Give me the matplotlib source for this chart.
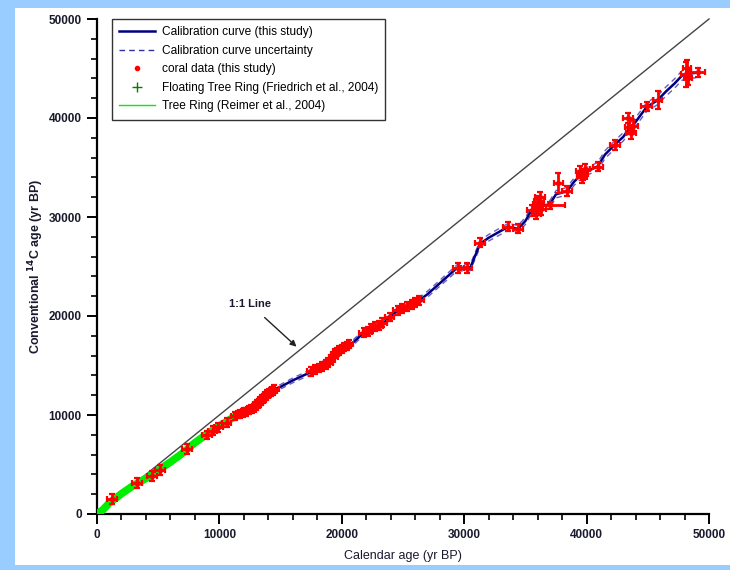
import numpy as np
import matplotlib
matplotlib.use("Agg")
import matplotlib.pyplot as plt
from matplotlib.lines import Line2D
from matplotlib.patches import Rectangle
from matplotlib.ticker import MultipleLocator

plt.rcParams["font.family"] = ["Liberation Sans", "DejaVu Sans"]

# ── Data ──────────────────────────────────────────────────────────────────────

# calibration curve (this study): calendar age, 14C age, 1-sigma
cal_curve = [0, 1000, 2000, 3000, 4000, 5000, 6000, 7000, 8000, 9000, 10000,
             11000, 12000, 13000, 14000, 14400, 15000, 16000, 17400, 18000,
             19000, 20000, 20900, 21700, 22500, 23400, 24000, 24500, 25500,
             26400, 27000, 28000, 29000, 29400, 30500, 31300, 32000, 33000,
             33600, 34400, 35000, 35500, 36000, 37000, 37500, 38400, 39000,
             39700, 40000, 40900, 41500, 42300, 43000, 43500, 44000, 44900,
             45800, 46500, 47200, 47800, 48500, 49200]
c14_curve = [0, 1100, 2050, 2900, 3600, 4400, 5250, 6150, 7200, 8100, 8900,
             9650, 10300, 11100, 12200, 12550, 12850, 13500, 14300, 14750,
             15700, 16800, 17300, 18200, 18700, 19300, 19950, 20500, 21100,
             21650, 22200, 23300, 24400, 24850, 24900, 27300, 27900, 28600,
             29000, 28800, 29600, 30700, 31000, 31300, 32300, 32600, 33600,
             34400, 34600, 35100, 36300, 37300, 38100, 39000, 39600, 41100,
             41800, 42700, 43500, 44300, 44500, 44600]
sig_curve = [60, 80, 90, 100, 110, 120, 130, 140, 150, 160, 170,
             180, 190, 200, 210, 220, 230, 240, 250, 250,
             250, 260, 260, 260, 270, 270, 280, 280, 290,
             290, 300, 300, 310, 310, 320, 330, 330, 340,
             340, 350, 350, 360, 360, 370, 370, 380, 380,
             390, 390, 400, 400, 410, 420, 420, 430, 440,
             450, 460, 470, 480, 490, 500]

# coral data (this study)
coral_cal = [1225, 3270, 4490, 5150, 7350, 8990, 9450, 9900, 10600,
             11300, 11500, 11700, 11900, 12000, 12200, 12300, 12450, 12600,
             12700, 12850, 13000, 13100, 13250, 13400, 13500, 13650, 13800,
             13900, 14050, 14200, 14350, 14500,
             17500, 17800, 18100, 18400, 18700, 18900, 19100, 19300, 19450,
             19600, 19800, 20000, 20200, 20400, 20600,
             21800, 22100, 22400, 22700, 23000, 23300, 23900,
             24600, 24900, 25300, 25700, 26000, 26300,
             29500, 30200, 31300, 33600, 34400,
             35500, 35900, 36000, 36100, 36200, 36300, 36000,
             37000, 37700, 38400, 39500, 39700, 39900, 39600,
             40900, 42300, 43500, 43400, 43600, 43800, 44900, 45800,
             48100, 48200, 48300, 49100]
coral_c14 = [1500, 3130, 3840, 4440, 6560, 7980, 8400, 8750, 9200,
             9900, 10050, 10100, 10200, 10350, 10300, 10450, 10500, 10600,
             10550, 10750, 10900, 11100, 11200, 11400, 11600, 11700, 11900,
             12100, 12200, 12300, 12450, 12600,
             14400, 14600, 14750, 14900, 15100, 15300, 15600, 15900, 16200,
             16350, 16500, 16700, 16900, 17000, 17200,
             18300, 18400, 18700, 18900, 19000, 19300, 19900,
             20600, 20800, 21000, 21200, 21400, 21600,
             24850, 24850, 27400, 29000, 28800,
             30700, 30300, 31000, 31600, 32000, 30800, 31300,
             31200, 33400, 32600, 34600, 34300, 34800, 34000,
             35100, 37300, 39100, 40000, 38500, 39200, 41200, 41800,
             44400, 45000, 44000, 44600]
coral_xerr = [420, 420, 420, 420, 420, 380, 380, 380, 380,
              330, 330, 330, 330, 330, 330, 330, 330, 330,
              330, 330, 330, 330, 330, 330, 330, 330, 330,
              330, 330, 330, 330, 330,
              350, 350, 350, 350, 350, 350, 350, 350, 350,
              350, 350, 350, 350, 350, 350,
              380, 380, 380, 380, 380, 380, 380,
              380, 380, 380, 380, 380, 380,
              450, 450, 400, 400, 400,
              400, 400, 400, 400, 400, 400, 400,
              1200, 350, 400, 400, 400, 400, 400,
              400, 400, 400, 400, 400, 400, 450, 400,
              350, 350, 350, 550]
coral_yerr = [520, 520, 520, 520, 520, 450, 450, 450, 450,
              380, 380, 380, 380, 380, 380, 380, 380, 380,
              380, 380, 380, 380, 380, 380, 380, 380, 380,
              380, 380, 380, 380, 380,
              420, 420, 420, 420, 420, 420, 420, 420, 420,
              420, 420, 420, 420, 420, 420,
              450, 450, 450, 450, 450, 450, 450,
              450, 450, 450, 450, 450, 450,
              500, 500, 450, 450, 450,
              550, 550, 800, 550, 550, 550, 550,
              350, 1000, 500, 550, 550, 550, 550,
              500, 500, 750, 550, 650, 550, 450, 900,
              1300, 900, 700, 450]

# tree ring (Reimer et al., 2004)
tree_cal = [0, 500, 1000, 2000, 3000, 4000, 5000, 6000, 7000, 8000, 9000,
            10000, 11000, 12000]
tree_c14 = [0, 450, 1100, 2050, 2900, 3600, 4400, 5250, 6150, 7200, 8100,
            8900, 9650, 10300]

# floating tree ring (Friedrich et al., 2004)
float_cal = [12400, 12800, 13200, 13600, 14000, 14400]
float_c14 = [10450, 10700, 11150, 11650, 12150, 12500]

# ── Figure ────────────────────────────────────────────────────────────────────

fig = plt.figure(figsize=(7.3, 5.7), dpi=100, facecolor="#99ccff")
fig.patches.append(Rectangle((15 / 730, 5 / 570), 715 / 730, 557 / 570,
                             transform=fig.transFigure, facecolor="white",
                             edgecolor="none", zorder=-10))
ax = fig.add_axes([97 / 730, 1 - 514 / 570, 612 / 730, 495 / 570])
ax.set_facecolor("none")

cal = np.array(cal_curve)
c14 = np.array(c14_curve)
sig = np.array(sig_curve)

# 1:1 line
ax.plot([0, 50000], [0, 50000], color="#444444", lw=1.0, zorder=2, clip_on=False)

# calibration curve + uncertainty
ax.plot(cal, c14 + sig, color="#6a5cc0", lw=1.0, ls=(0, (4, 3)), zorder=3)
ax.plot(cal, c14 - sig, color="#6a5cc0", lw=1.0, ls=(0, (4, 3)), zorder=3)
ax.plot(cal, c14, color="#000080", lw=1.8, zorder=4)

# tree rings
ax.plot(tree_cal, tree_c14, color="#00ee00", lw=5.5, solid_capstyle="round", zorder=5)
ax.plot(float_cal, float_c14, ls="none", marker="+", color="#00a000", ms=5, zorder=5)

# coral data
ax.errorbar(coral_cal, coral_c14, xerr=coral_xerr, yerr=coral_yerr, fmt="o",
            color="#ff0000", ms=3, elinewidth=2.0, capsize=2.2, capthick=1.6,
            zorder=6)

# annotation
ax.annotate("1:1 Line", xy=(16300, 16900), xytext=(12500, 21200),
            ha="center", va="center", fontsize=8, fontweight="bold",
            color="#1a1a2e",
            arrowprops=dict(arrowstyle="-|>", color="#222222", lw=1.0,
                            shrinkA=6, shrinkB=0, mutation_scale=9))

# axes styling
ax.set_xlim(0, 50000)
ax.set_ylim(0, 50000)
for s in ("top", "right"):
    ax.spines[s].set_visible(False)
for s in ("left", "bottom"):
    ax.spines[s].set_linewidth(1.6)
ax.xaxis.set_major_locator(MultipleLocator(10000))
ax.xaxis.set_minor_locator(MultipleLocator(2000))
ax.yaxis.set_major_locator(MultipleLocator(10000))
ax.yaxis.set_minor_locator(MultipleLocator(2000))
ax.tick_params(which="major", direction="out", length=7, width=1.4,
               labelsize=8.5, pad=4)
ax.tick_params(which="minor", direction="out", length=4, width=1.2)
for lab in ax.get_xticklabels() + ax.get_yticklabels():
    lab.set_fontweight("bold")
    lab.set_color("#1a1a2e")

ax.set_xlabel("Calendar age (yr BP)", fontsize=9, labelpad=6, color="#1a1a2e")
ax.set_ylabel("Conventional $\\mathbf{^{14}}$C age (yr BP)", fontsize=9,
              fontweight="bold", labelpad=2, color="#1a1a2e")

handles = [
    Line2D([], [], color="#000080", lw=1.8),
    Line2D([], [], color="#3030a0", lw=1.0, ls=(0, (4, 3))),
    Line2D([], [], ls="none", marker="o", color="#ff0000", ms=3),
    Line2D([], [], ls="none", marker="+", color="#008000", ms=7),
    Line2D([], [], color="#00ee00", lw=1.0),
]
labels = [
    "Calibration curve (this study)",
    "Calibration curve uncertainty",
    "coral data (this study)",
    "Floating Tree Ring (Friedrich et al., 2004)",
    "Tree Ring (Reimer et al., 2004)",
]
leg = ax.legend(handles, labels, loc="upper left", bbox_to_anchor=(0.024, 1.0),
                borderaxespad=0, fontsize=8.6, frameon=True, fancybox=False,
                edgecolor="black", handlelength=3.0, handletextpad=0.6,
                labelspacing=0.55, borderpad=0.6)
leg.get_frame().set_linewidth(1.0)
leg.set_zorder(10)

fig.savefig("out.png", dpi=100, facecolor=fig.get_facecolor())
